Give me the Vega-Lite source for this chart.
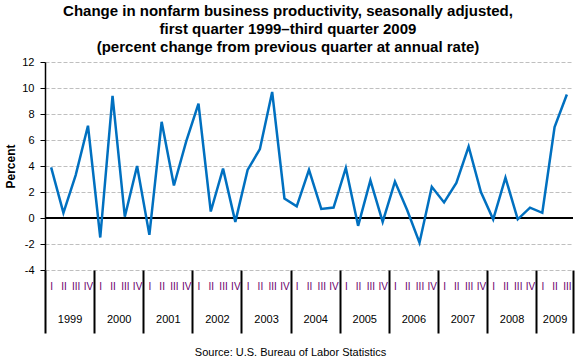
{
  "$schema": "https://vega.github.io/schema/vega-lite/v6.json",
  "autosize": {"type": "none"},
  "padding": {"left": 45, "top": 62, "right": 7, "bottom": 90},
  "width": 528,
  "height": 208,
  "background": "white",
  "config": {
    "view": {"stroke": null},
    "font": "Liberation Sans",
    "axis": {"labelFont": "Liberation Sans", "titleFont": "Liberation Sans"},
    "axisY": {
      "values": [-4, -2, 0, 2, 4, 6, 8, 10, 12],
      "labelExpr": "replace(datum.label, '\u2212', '-')",
      "grid": true, "gridDash": [4, 2], "gridColor": "#BFBFBF", "gridWidth": 1,
      "domain": true, "domainColor": "black", "domainWidth": 1.5,
      "ticks": true, "tickColor": "black", "tickSize": 5, "tickWidth": 1,
      "labelFontSize": 11, "labelColor": "black", "labelPadding": 6, "labelOverlap": false,
      "titleFontSize": 12, "titleFontWeight": "bold", "titleColor": "black",
      "titlePadding": 4
    }
  },
  "title": {
    "text": ["Change in nonfarm business productivity, seasonally adjusted,", "first quarter 1999\u2013third quarter 2009", "(percent change from previous quarter at annual rate)"],
    "font": "Liberation Sans",
    "fontSize": 15,
    "fontWeight": "bold",
    "color": "black",
    "anchor": "middle",
    "dx": -21,
    "offset": 1,
    "lineHeight": 18
  },
  "data": {
    "values": [
      {"q": 1, "year": 1999, "quarter": "I", "value": 3.9},
      {"q": 2, "year": 1999, "quarter": "II", "value": 0.4},
      {"q": 3, "year": 1999, "quarter": "III", "value": 3.3},
      {"q": 4, "year": 1999, "quarter": "IV", "value": 7.1},
      {"q": 5, "year": 2000, "quarter": "I", "value": -1.5},
      {"q": 6, "year": 2000, "quarter": "II", "value": 9.4},
      {"q": 7, "year": 2000, "quarter": "III", "value": 0.1},
      {"q": 8, "year": 2000, "quarter": "IV", "value": 4.0},
      {"q": 9, "year": 2001, "quarter": "I", "value": -1.3},
      {"q": 10, "year": 2001, "quarter": "II", "value": 7.4},
      {"q": 11, "year": 2001, "quarter": "III", "value": 2.5},
      {"q": 12, "year": 2001, "quarter": "IV", "value": 5.9},
      {"q": 13, "year": 2002, "quarter": "I", "value": 8.8},
      {"q": 14, "year": 2002, "quarter": "II", "value": 0.5},
      {"q": 15, "year": 2002, "quarter": "III", "value": 3.8},
      {"q": 16, "year": 2002, "quarter": "IV", "value": -0.3},
      {"q": 17, "year": 2003, "quarter": "I", "value": 3.7},
      {"q": 18, "year": 2003, "quarter": "II", "value": 5.3},
      {"q": 19, "year": 2003, "quarter": "III", "value": 9.7},
      {"q": 20, "year": 2003, "quarter": "IV", "value": 1.5},
      {"q": 21, "year": 2004, "quarter": "I", "value": 0.9},
      {"q": 22, "year": 2004, "quarter": "II", "value": 3.7},
      {"q": 23, "year": 2004, "quarter": "III", "value": 0.7},
      {"q": 24, "year": 2004, "quarter": "IV", "value": 0.8},
      {"q": 25, "year": 2005, "quarter": "I", "value": 3.85},
      {"q": 26, "year": 2005, "quarter": "II", "value": -0.6},
      {"q": 27, "year": 2005, "quarter": "III", "value": 2.9},
      {"q": 28, "year": 2005, "quarter": "IV", "value": -0.3},
      {"q": 29, "year": 2006, "quarter": "I", "value": 2.8},
      {"q": 30, "year": 2006, "quarter": "II", "value": 0.6},
      {"q": 31, "year": 2006, "quarter": "III", "value": -1.9},
      {"q": 32, "year": 2006, "quarter": "IV", "value": 2.4},
      {"q": 33, "year": 2007, "quarter": "I", "value": 1.2},
      {"q": 34, "year": 2007, "quarter": "II", "value": 2.7},
      {"q": 35, "year": 2007, "quarter": "III", "value": 5.5},
      {"q": 36, "year": 2007, "quarter": "IV", "value": 2.0},
      {"q": 37, "year": 2008, "quarter": "I", "value": -0.1},
      {"q": 38, "year": 2008, "quarter": "II", "value": 3.1},
      {"q": 39, "year": 2008, "quarter": "III", "value": -0.1},
      {"q": 40, "year": 2008, "quarter": "IV", "value": 0.8},
      {"q": 41, "year": 2009, "quarter": "I", "value": 0.4},
      {"q": 42, "year": 2009, "quarter": "II", "value": 7.0},
      {"q": 43, "year": 2009, "quarter": "III", "value": 9.5}
    ]
  },
  "resolve": {"axis": {"x": "independent"}},
  "layer": [
    {
      "mark": {"type": "point", "opacity": 0},
      "encoding": {
        "x": {
          "field": "q", "type": "quantitative",
          "scale": {"domain": [0.5, 43.5], "nice": false, "zero": false},
          "axis": {
            "orient": "bottom",
            "values": [0.5, 4.5, 8.5, 12.5, 16.5, 20.5, 24.5, 28.5, 32.5, 36.5, 40.5, 43.5],
            "labels": false, "ticks": true, "tickSize": 63, "tickColor": "black", "tickWidth": 2,
            "domain": false, "grid": false, "title": null
          }
        }
      }
    },
    {
      "mark": {"type": "point", "opacity": 0},
      "encoding": {
        "x": {
          "field": "q", "type": "quantitative",
          "axis": {
            "orient": "bottom",
            "values": [2.5, 6.5, 10.5, 14.5, 18.5, 22.5, 26.5, 30.5, 34.5, 38.5, 42],
            "labelExpr": "'' + (1999 + floor((datum.value - 0.5) / 4))",
            "ticks": false, "domain": false, "grid": false,
            "labelPadding": 43, "labelFontSize": 11, "labelColor": "black",
            "labelOverlap": false, "labelFlush": false,
            "title": "Source: U.S. Bureau of Labor Statistics",
            "titleFontWeight": "normal", "titleFontSize": 11, "titleColor": "black",
            "titlePadding": 22, "titleX": 245
          }
        }
      }
    },
    {
      "mark": {"type": "rule", "color": "black", "strokeWidth": 1.5},
      "encoding": {"y": {"datum": 0, "type": "quantitative", "title": "Percent"}}
    },
    {
      "mark": {"type": "line", "color": "#0070C0", "strokeWidth": 2.5, "strokeJoin": "miter"},
      "encoding": {
        "x": {
          "field": "q", "type": "quantitative",
          "axis": {
            "orient": "bottom",
            "values": [1,2,3,4,5,6,7,8,9,10,11,12,13,14,15,16,17,18,19,20,21,22,23,24,25,26,27,28,29,30,31,32,33,34,35,36,37,38,39,40,41,42,43],
            "labelExpr": "['I','II','III','IV'][(datum.value - 1) % 4]",
            "ticks": false, "domain": false, "grid": false,
            "labelPadding": 11, "labelFontSize": 10, "labelColor": "#6A006A",
            "labelOverlap": false, "labelFlush": false, "title": null
          }
        },
        "y": {
          "field": "value", "type": "quantitative",
          "scale": {"domain": [-4, 12], "nice": false},
          "title": "Percent"
        }
      }
    }
  ]
}
